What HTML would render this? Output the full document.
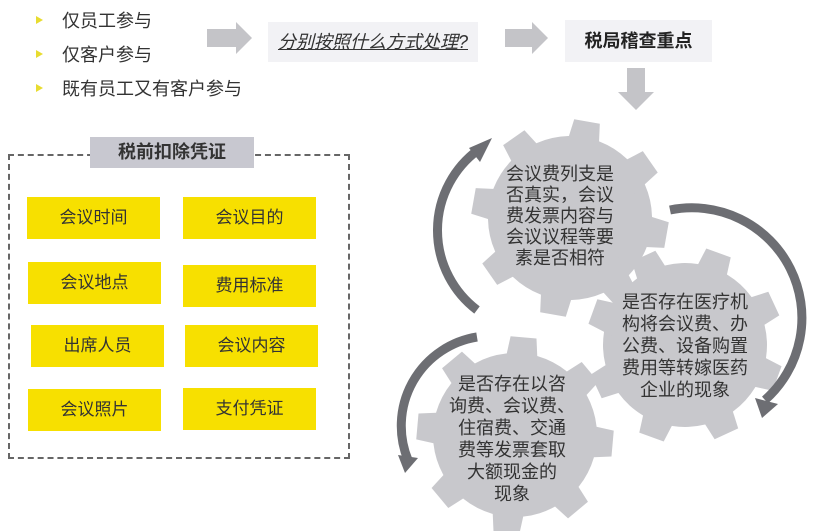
<!DOCTYPE html>
<html><head><meta charset="utf-8"><style>
body{margin:0;width:814px;height:531px;background:#fff;position:relative;overflow:hidden;font-family:"Liberation Sans","Noto Sans CJK SC",sans-serif;color:#333}
.a{position:absolute}
.y{position:absolute;background:#f7e000;width:133px;height:42px;line-height:42px;text-align:center;font-size:17px;color:#333}
.li{position:absolute;left:62px;font-size:18px;color:#333}
.tri{position:absolute;left:36px;width:0;height:0;border-top:4px solid transparent;border-bottom:4px solid transparent;border-left:7px solid #e8dc30}
</style></head><body>
<div class="tri" style="top:16px"></div><div class="li" style="top:7px">仅员工参与</div>
<div class="tri" style="top:50px"></div><div class="li" style="top:41px">仅客户参与</div>
<div class="tri" style="top:84px"></div><div class="li" style="top:75px">既有员工又有客户参与</div>
<div class="a" style="left:268px;top:22px;width:210px;height:40px;background:#f2f2f5;line-height:40px;text-align:center;font-size:18px;font-style:italic;text-decoration:underline">分别按照什么方式处理?</div>
<div class="a" style="left:565px;top:20px;width:147px;height:42px;background:#f2f2f5;line-height:42px;text-align:center;font-size:18px;font-weight:bold;color:#222">税局稽查重点</div>
<div class="a" style="left:8px;top:154px;width:338px;height:301px;border:2px dashed #666"></div>
<div class="a" style="left:90px;top:137px;width:164px;height:31px;background:#c8c8d0;line-height:31px;text-align:center;font-size:18px;font-weight:bold;color:#333">税前扣除凭证</div>
<div class="y" style="left:27px;top:197px">会议时间</div><div class="y" style="left:183px;top:197px">会议目的</div>
<div class="y" style="left:28px;top:262px">会议地点</div><div class="y" style="left:183px;top:265px">费用标准</div>
<div class="y" style="left:31px;top:325px">出席人员</div><div class="y" style="left:185px;top:325px">会议内容</div>
<div class="y" style="left:28px;top:389px">会议照片</div><div class="y" style="left:183px;top:388px">支付凭证</div>
<svg class="a" style="left:0;top:0" width="814" height="531">
<defs>
<polygon id="t" points="-18,-60 18,-60 13,-98 -13,-98"/>
<g id="gear"><circle r="82" fill="#c8c8cc"/>
<g fill="#c8c8cc">
<use href="#t"/><use href="#t" transform="rotate(45)"/><use href="#t" transform="rotate(90)"/><use href="#t" transform="rotate(135)"/>
<use href="#t" transform="rotate(180)"/><use href="#t" transform="rotate(225)"/><use href="#t" transform="rotate(270)"/><use href="#t" transform="rotate(315)"/>
</g></g>
</defs>
<polygon points="207,29 236,29 236,22 252,38 236,54 236,47 207,47" fill="#c4c4c8"/>
<polygon points="505,29 532,29 532,22 548,38 532,54 532,47 505,47" fill="#c4c4c8"/>
<polygon points="627,68 645,68 645,92 654,92 636,110 618,92 627,92" fill="#c4c4c8"/>
<use href="#gear" transform="translate(570,218) rotate(10)"/>
<use href="#gear" transform="translate(685,345) rotate(20)"/>
<use href="#gear" transform="translate(515,435) rotate(5)"/>
<g fill="none" stroke="#6d6e73" stroke-width="9">
<path d="M477,310 A100,100 0 0 1 478,150"/>
<path d="M670,210 A110,110 0 0 1 765,400"/>
<path d="M477,337 A90,90 0 0 0 408,460"/>
</g>
<polygon points="469,148 492,138 480,162" fill="#6d6e73"/>
<polygon points="755,398 778,404 762,418" fill="#6d6e73"/>
<polygon points="398,455 418,458 405,473" fill="#6d6e73"/>
<g font-size="18" fill="#333" text-anchor="middle" font-family="Liberation Sans,Noto Sans CJK SC,sans-serif">
<text x="560" y="180">会议费列支是</text><text x="560" y="201">否真实，会议</text><text x="560" y="222">费发票内容与</text><text x="560" y="243">会议议程等要</text><text x="560" y="264">素是否相符</text>
<text x="685" y="308">是否存在医疗机</text><text x="685" y="330">构将会议费、办</text><text x="685" y="352">公费、设备购置</text><text x="685" y="374">费用等转嫁医药</text><text x="685" y="396">企业的现象</text>
<text x="512" y="390">是否存在以咨</text><text x="512" y="412">询费、会议费、</text><text x="512" y="434">住宿费、交通</text><text x="512" y="456">费等发票套取</text><text x="512" y="478">大额现金的</text><text x="512" y="500">现象</text>
</g>
</svg>
</body></html>
